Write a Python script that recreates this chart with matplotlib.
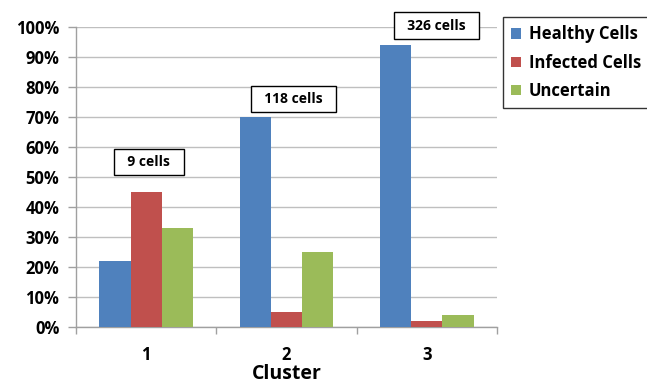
import matplotlib.pyplot as plt
import numpy as np

# cluster composition (percent of cells)
clusters = ['1', '2', '3']
healthy = [22, 70, 94]
infected = [45, 5, 2]
uncertain = [33, 25, 4]
cell_counts = ['9 cells', '118 cells', '326 cells']
count_label_y = [55, 76, 100.5]
count_label_dx = [0.02, 0.05, 0.07]

plt.rcParams['font.family'] = ['Open Sans', 'DejaVu Sans']

fig = plt.figure(figsize=(6.47, 3.83), dpi=100)
ax = fig.add_axes([0.1175, 0.1462, 0.6507, 0.7833])

x = np.arange(len(clusters))
w = 0.222
ax.bar(x - w, healthy, w, color='#4F81BD', label='Healthy Cells', zorder=3)
ax.bar(x, infected, w, color='#C0504D', label='Infected Cells', zorder=3)
ax.bar(x + w, uncertain, w, color='#9BBB59', label='Uncertain', zorder=3)

# boxed cell counts above each cluster
for i, txt in enumerate(cell_counts):
    ax.text(x[i] + count_label_dx[i], count_label_y[i], '  ' + txt + '  ', ha='center', va='center',
            fontsize=10, fontweight='bold', zorder=5, clip_on=False,
            bbox=dict(boxstyle='square,pad=0.45', fc='white', ec='black', lw=1))

ax.set_xlim(-0.5, 2.5)
ax.set_ylim(0, 100)
ax.set_yticks(range(0, 101, 10))
ax.set_yticklabels([f'{v}%' for v in range(0, 101, 10)], fontsize=12, fontweight='bold')
ax.set_xticks(x)
ax.set_xticklabels(clusters, fontsize=12, fontweight='bold')
ax.set_xticks([-0.5, 0.5, 1.5, 2.5], minor=True)
ax.tick_params(axis='x', which='major', length=0, pad=14)
ax.tick_params(axis='x', which='minor', length=5, color='#A0A0A0', width=1)
ax.tick_params(axis='y', length=6, color='#A0A0A0', width=1, pad=6)
ax.set_xlabel('Cluster', fontsize=14, fontweight='bold', labelpad=0)

ax.yaxis.grid(True, color='#BFBFBF', lw=1, zorder=0)
ax.set_axisbelow(True)
for s in ['top', 'right']:
    ax.spines[s].set_visible(False)
for s in ['left', 'bottom']:
    ax.spines[s].set_color('#A0A0A0')
    ax.spines[s].set_linewidth(1)

leg = fig.legend(loc='upper left', bbox_to_anchor=(0.7774, 0.9556),
                 prop={'weight': 'bold', 'size': 12}, frameon=True, fancybox=False,
                 handlelength=0.6, handleheight=0.6, handletextpad=0.45,
                 borderpad=0.5, labelspacing=0.62, borderaxespad=0)
leg.get_frame().set_edgecolor('black')
leg.get_frame().set_linewidth(1)

fig.savefig('out.png', dpi=100)
